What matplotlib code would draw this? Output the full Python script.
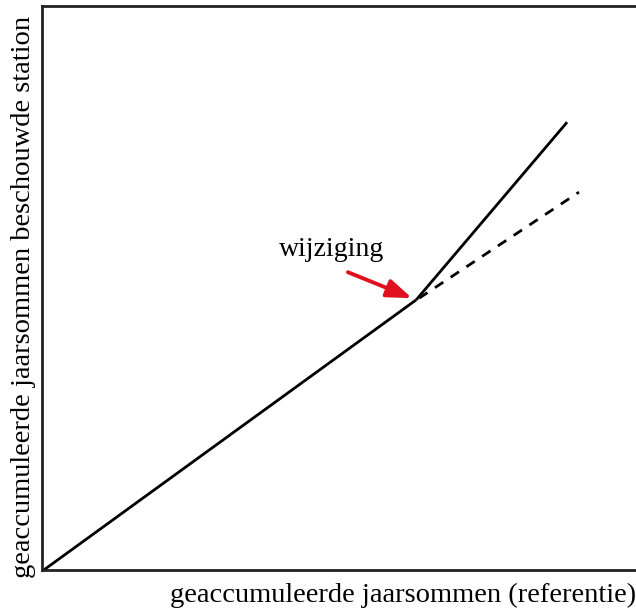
import matplotlib
matplotlib.use("Agg")
import matplotlib.pyplot as plt

# cumulative sums (arbitrary units, axes 0-100)
x_before = [0.3, 63.0]
y_before = [0.0, 47.9]
x_after = [63.0, 88.4]
y_after = [47.9, 79.4]
x_expected = [63.5, 90.4]
y_expected = [48.2, 67.0]

change_label = "wijziging"
change_xy = (62.3, 48.2)
label_xy = (51.5, 52.8)
label_text_xy = (48.8, 56.9)

xlabel = "geaccumuleerde jaarsommen (referentie)"
ylabel = "geaccumuleerde jaarsommen beschouwde station"

plt.rcParams['font.family'] = ['Liberation Serif', 'DejaVu Serif']

fig = plt.figure(figsize=(6.36, 6.12), dpi=100)
ax = fig.add_axes([42/636, 42/612, 600/636, 564/612])

ax.plot(x_before, y_before, color='black', lw=2, solid_capstyle='butt')
ax.plot(x_after, y_after, color='black', lw=2, solid_capstyle='butt')
ax.plot(x_expected, y_expected, color='black', lw=2, linestyle=(0, (3.6, 3.2)))

ax.annotate("", xy=change_xy, xytext=label_xy,
            arrowprops=dict(arrowstyle='-|>,head_length=1.5,head_width=0.55',
                            color='#e0101e', lw=2.8, shrinkA=0, shrinkB=0))
ax.text(label_text_xy[0], label_text_xy[1], change_label, ha='center', va='center',
        fontsize=20)

ax.set_xlim(0, 100 * 600 / 594)
ax.set_ylim(0, 100)
ax.set_xticks([])
ax.set_yticks([])
for s in ax.spines.values():
    s.set_linewidth(2)
    s.set_color('#222222')

fig.text(636/636, 1 - 595/612, xlabel, ha='right', va='center', fontsize=20.5)
fig.text(24/636, 1 - 297/612, ylabel, ha='center', va='center', rotation=90, fontsize=20.5)

fig.savefig("out.png", dpi=100)
